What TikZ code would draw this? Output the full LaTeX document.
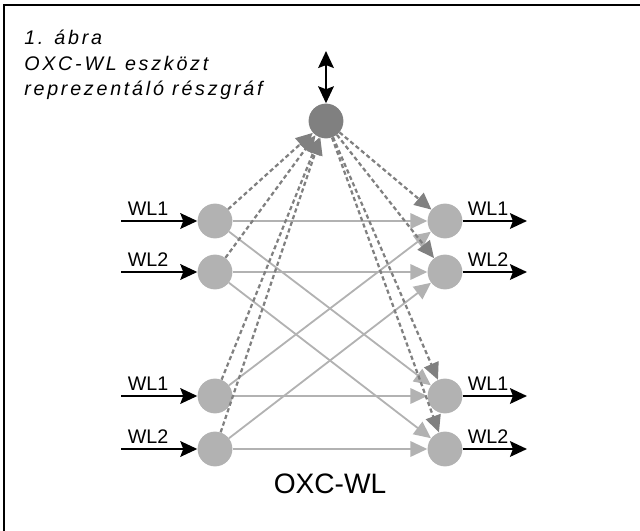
\documentclass[tikz,border=0pt]{standalone}
\usepackage{fontspec}
\setmainfont{Liberation Sans}
\newfontfamily\captionfont[LetterSpace=14]{Liberation Sans}
\usetikzlibrary{arrows.meta,positioning,calc}

\tikzset{
	port/.style={circle,fill=gray!60,minimum size=0.87cm,inner sep=0pt},
	hub/.style={circle,fill=gray,minimum size=0.87cm,inner sep=0pt},
	wire/.style={draw=gray!60,line width=1.3pt,-{Triangle[length=12pt,width=11pt]}},
	ctrl/.style={draw=gray,line width=1.6pt,dash pattern=on 3pt off 2pt,-{Triangle[length=12pt,width=11pt,fill=gray]}},
	line/.style={draw=black,line width=2.1pt,-{Stealth[length=12pt,width=11pt,inset=2pt]}},
	wl/.style={font=\fontsize{14}{16}\selectfont,inner sep=0pt}
}

\begin{document}
\begin{tikzpicture}[x=0.025cm,y=-0.025cm]
	\useasboundingbox (0,0) rectangle (640,531);
	\draw[line width=1.4pt] (4,531) -- (4,5) -- (640,5);

	\node[anchor=north west,align=left,inner sep=0pt,
		font=\captionfont\itshape\fontsize{14}{18.2}\selectfont] (cap) at (24,30)
		{1. ábra\\OXC-WL eszközt\\reprezentáló részgráf};

	% nodes
	\node[hub] (ctl) at (326,121) {};
	\node[port] (inA) at (215,221) {};
	\node[port] (inB) at (215,272) {};
	\node[port] (inC) at (215,396) {};
	\node[port] (inD) at (215,449) {};
	\node[port] (outA) at (445,221) {};
	\node[port] (outB) at (445,272) {};
	\node[port] (outC) at (445,396) {};
	\node[port] (outD) at (445,449) {};

	\coordinate (top) at (326,51);
	\draw[line width=2.1pt,{Stealth[length=12pt,width=11pt,inset=2pt]}-{Stealth[length=12pt,width=11pt,inset=2pt]}] (top) -- (ctl.north);

	% solid connections
	\path
	(inA) edge[wire] (outA)
	(inA) edge[wire] (outC)
	(inB) edge[wire] (outB)
	(inB) edge[wire] (outD)
	(inC) edge[wire] (outC)
	(inC) edge[wire] (outA)
	(inD) edge[wire] (outD)
	(inD) edge[wire] (outB);

	% dashed connections via the hub
	\path
	(inA) edge[ctrl] (ctl)
	(inB) edge[ctrl] (ctl)
	(inC) edge[ctrl] (ctl)
	(inD) edge[ctrl] (ctl)
	(ctl) edge[ctrl] (outA)
	(ctl) edge[ctrl] (outB)
	(ctl) edge[ctrl] (outC)
	(ctl) edge[ctrl] (outD);

	% ports in and out
	\foreach \n/\t in {A/WL1,B/WL2,C/WL1,D/WL2}{
		\coordinate (src\n) at ($(in\n)+(-94,0)$);
		\draw[line] (src\n) -- (in\n.west);
		\node[wl,anchor=base] at ($(in\n)+(-67,-5)$) {\t};
		\coordinate (dst\n) at ($(out\n)+(82,0)$);
		\draw[line] (out\n.east) -- (dst\n);
		\node[wl,anchor=base] at ($(out\n)+(43,-5)$) {\t};
	}

	\node[font=\fontsize{20}{24}\selectfont,anchor=base] (name) at (330,493) {OXC-WL};
\end{tikzpicture}
\end{document}
